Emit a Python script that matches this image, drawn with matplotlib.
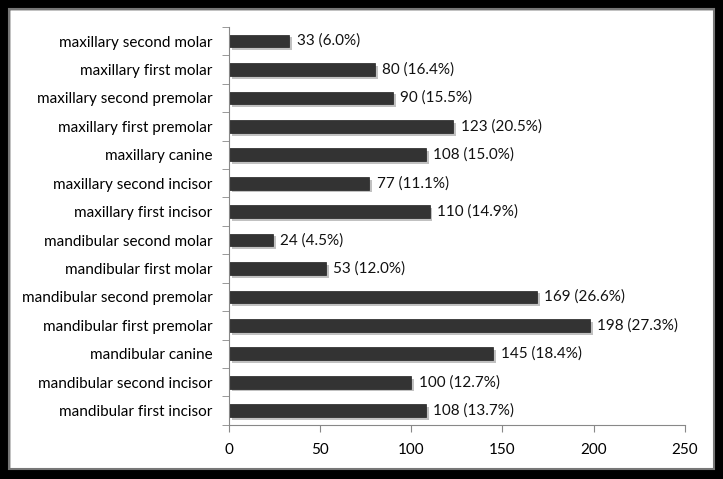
import matplotlib.pyplot as plt
import matplotlib.patheffects as pe
from matplotlib.patches import Rectangle

plt.rcParams['font.family'] = ['Lato', 'DejaVu Sans']

# bottom to top, as drawn
teeth = [
    'mandibular first incisor', 'mandibular second incisor', 'mandibular canine',
    'mandibular first premolar', 'mandibular second premolar', 'mandibular first molar',
    'mandibular second molar', 'maxillary first incisor', 'maxillary second incisor',
    'maxillary canine', 'maxillary first premolar', 'maxillary second premolar',
    'maxillary first molar', 'maxillary second molar',
]
counts = [108, 100, 145, 198, 169, 53, 24, 110, 77, 108, 123, 90, 80, 33]
percents = [13.7, 12.7, 18.4, 27.3, 26.6, 12.0, 4.5, 14.9, 11.1, 15.0, 20.5, 15.5, 16.4, 6.0]
xticks = [0, 50, 100, 150, 200, 250]

fig = plt.figure(figsize=(7.23, 4.79), dpi=100)
fig.patch.set_facecolor('white')

# outer black frame and inner grey line
fig.patches.append(Rectangle((0, 0), 1, 1, transform=fig.transFigure, fill=False,
                             edgecolor='black', linewidth=14, zorder=0))
fig.patches.append(Rectangle((0.013, 0.02), 0.974, 0.962, transform=fig.transFigure, fill=False,
                             edgecolor='#777777', linewidth=1.5, zorder=0))

ax = fig.add_axes([0.317, 0.113, 0.630, 0.831])
y = list(range(len(teeth)))
bars = ax.barh(y, counts, height=0.45, color='#333333', edgecolor='#222222', linewidth=0.5)
for b in bars:
    b.set_path_effects([pe.SimplePatchShadow(offset=(2, -2), shadow_rgbFace='#999999', alpha=0.6),
                        pe.Normal()])

for yi, c, p in zip(y, counts, percents):
    ax.text(c + 4, yi, f'{c} ({p:.1f}%)', va='center', ha='left', fontsize=11, color='#111111')

ax.set_xlim(0, 250)
ax.set_ylim(-0.5, len(teeth) - 0.5)
ax.set_xticks(xticks)
ax.set_yticks(y)
ax.set_yticklabels(teeth, fontsize=11)
ax.set_yticks([i - 0.5 for i in range(len(teeth) + 1)], minor=True)
ax.tick_params(axis='y', which='major', length=0, pad=12)
ax.tick_params(axis='y', which='minor', length=5, color='#888888')
ax.tick_params(axis='x', length=5, color='#888888', labelsize=11, pad=8)

for s in ['top', 'right']:
    ax.spines[s].set_visible(False)
for s in ['left', 'bottom']:
    ax.spines[s].set_color('#888888')

fig.savefig('out.png', dpi=100)
